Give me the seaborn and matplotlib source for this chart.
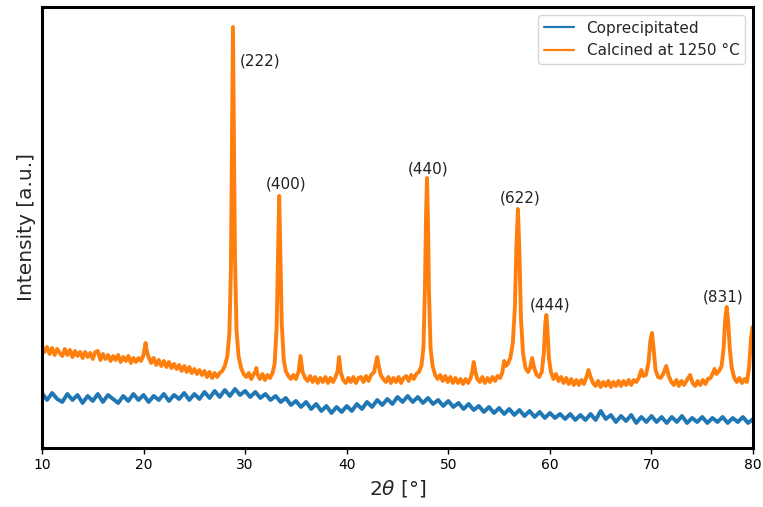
import numpy as np
import pandas as pd
import matplotlib
matplotlib.use("Agg")
import matplotlib.pyplot as plt
import seaborn as sns

series_names = ["Coprecipitated", "Calcined at 1250 °C"]

copre_x = [10.0, 10.5, 11.0, 11.5, 12.0, 12.5, 13.0, 13.5, 14.0, 14.5, 15.0, 15.5, 16.0, 16.5, 17.0, 17.5,
           18.0, 18.5, 19.0, 19.5, 20.0, 20.5, 21.0, 21.5, 22.0, 22.5, 23.0, 23.5, 24.0, 24.5, 25.0, 25.5,
           26.0, 26.5, 27.0, 27.5, 28.0, 28.5, 29.0, 29.5, 30.0, 30.5, 31.0, 31.5, 32.0, 32.5, 33.0, 33.5,
           34.0, 34.5, 35.0, 35.5, 36.0, 36.5, 37.0, 37.5, 38.0, 38.5, 39.0, 39.5, 40.0, 40.5, 41.0, 41.5,
           42.0, 42.5, 43.0, 43.5, 44.0, 44.5, 45.0, 45.5, 46.0, 46.5, 47.0, 47.5, 48.0, 48.5, 49.0, 49.5,
           50.0, 50.5, 51.0, 51.5, 52.0, 52.5, 53.0, 53.5, 54.0, 54.5, 55.0, 55.5, 56.0, 56.5, 57.0, 57.5,
           58.0, 58.5, 59.0, 59.5, 60.0, 60.5, 61.0, 61.5, 62.0, 62.5, 63.0, 63.5, 64.0, 64.5, 65.0, 65.5,
           66.0, 66.5, 67.0, 67.5, 68.0, 68.5, 69.0, 69.5, 70.0, 70.5, 71.0, 71.5, 72.0, 72.5, 73.0, 73.5,
           74.0, 74.5, 75.0, 75.5, 76.0, 76.5, 77.0, 77.5, 78.0, 78.5, 79.0, 79.5, 80.0]
copre_y = [55, 48, 55, 49, 46, 54, 48, 53, 45, 52, 47, 54, 46, 53, 49, 45,
           52, 47, 54, 48, 53, 46, 52, 48, 54, 47, 53, 49, 55, 48, 54, 49,
           56, 50, 57, 51, 58, 52, 59, 53, 57, 51, 56, 50, 54, 48, 52, 46,
           50, 43, 47, 41, 46, 39, 44, 37, 42, 35, 41, 36, 42, 37, 44, 39,
           46, 41, 48, 43, 49, 44, 51, 46, 52, 46, 51, 45, 50, 44, 48, 42,
           47, 41, 45, 39, 44, 38, 42, 36, 41, 35, 40, 34, 39, 33, 38, 32,
           37, 31, 36, 30, 35, 30, 34, 29, 34, 28, 33, 28, 34, 28, 37, 29,
           33, 26, 32, 27, 33, 25, 31, 26, 32, 26, 31, 25, 31, 26, 32, 25,
           30, 26, 31, 25, 30, 26, 31, 25, 30, 26, 31, 25, 29]

calc_x = [10.0, 10.25, 10.5, 10.75, 11.0, 11.25, 11.5, 11.75, 12.0, 12.25, 12.5, 12.75, 13.0, 13.25, 13.5, 13.75,
          14.0, 14.25, 14.5, 14.75, 15.0, 15.25, 15.5, 15.75, 16.0, 16.25, 16.5, 16.75, 17.0, 17.25, 17.5, 17.75,
          18.0, 18.25, 18.5, 18.75, 19.0, 19.25, 19.5, 19.75, 20.0, 20.1, 20.2, 20.3, 20.45, 20.75, 21.0, 21.25,
          21.5, 21.75, 22.0, 22.25, 22.5, 22.75, 23.0, 23.25, 23.5, 23.75, 24.0, 24.25, 24.5, 24.75, 25.0, 25.25,
          25.5, 25.75, 26.0, 26.25, 26.5, 26.75, 27.0, 27.25, 27.5, 27.75, 28.0, 28.25, 28.45, 28.6, 28.7, 28.8,
          28.9, 29.0, 29.15, 29.35, 29.6, 29.85, 30.1, 30.35, 30.6, 30.85, 31.0, 31.1, 31.2, 31.45, 31.7, 31.95,
          32.2, 32.45, 32.7, 32.9, 33.1, 33.25, 33.35, 33.45, 33.6, 33.8, 34.0, 34.25, 34.5, 34.75, 35.0, 35.25,
          35.45, 35.65, 35.9, 36.15, 36.4, 36.65, 36.9, 37.15, 37.4, 37.65, 37.9, 38.15, 38.4, 38.65, 38.9, 39.1,
          39.25, 39.4, 39.65, 39.9, 40.15, 40.4, 40.65, 40.9, 41.15, 41.4, 41.65, 41.9, 42.15, 42.4, 42.7, 42.85,
          43.0, 43.15, 43.35, 43.6, 43.85, 44.1, 44.35, 44.6, 44.85, 45.1, 45.35, 45.6, 45.85, 46.1, 46.35, 46.6,
          46.85, 47.1, 47.35, 47.55, 47.7, 47.8, 47.9, 48.0, 48.1, 48.25, 48.45, 48.7, 48.95, 49.2, 49.45, 49.7,
          49.95, 50.2, 50.45, 50.7, 50.95, 51.2, 51.45, 51.7, 51.95, 52.2, 52.35, 52.5, 52.65, 52.85, 53.1, 53.35,
          53.6, 53.85, 54.1, 54.35, 54.6, 54.85, 55.1, 55.3, 55.5, 55.65, 55.85, 56.1, 56.35, 56.55, 56.7, 56.85,
          57.0, 57.15, 57.35, 57.6, 57.85, 58.05, 58.25, 58.45, 58.7, 58.95, 59.2, 59.4, 59.55, 59.65, 59.75, 59.9,
          60.1, 60.35, 60.6, 60.85, 61.1, 61.35, 61.6, 61.85, 62.1, 62.35, 62.6, 62.85, 63.1, 63.35, 63.6, 63.8,
          64.0, 64.25, 64.5, 64.75, 65.0, 65.25, 65.5, 65.75, 66.0, 66.25, 66.5, 66.75, 67.0, 67.25, 67.5, 67.75,
          68.0, 68.25, 68.5, 68.75, 69.0, 69.2, 69.45, 69.7, 69.9, 70.05, 70.2, 70.4, 70.65, 70.9, 71.15, 71.45,
          71.7, 71.95, 72.2, 72.45, 72.7, 72.95, 73.2, 73.5, 73.8, 74.05, 74.3, 74.55, 74.8, 75.05, 75.3, 75.55,
          75.8, 76.05, 76.2, 76.4, 76.65, 76.9, 77.1, 77.25, 77.4, 77.55, 77.7, 77.9, 78.15, 78.4, 78.65, 78.9,
          79.15, 79.4, 79.6, 79.8, 79.95, 80.0]
calc_y = [102, 96, 101, 94, 100, 93, 99, 95, 92, 99, 93, 98, 91, 97, 92, 96,
          90, 96, 91, 95, 89, 96, 97, 88, 94, 89, 93, 87, 92, 88, 93, 86,
          91, 87, 92, 85, 90, 86, 90, 87, 93, 99, 105, 98, 92, 85, 90, 83,
          88, 82, 87, 81, 86, 80, 84, 79, 83, 77, 82, 76, 81, 75, 79, 74,
          78, 73, 77, 71, 76, 70, 75, 71, 75, 77, 82, 92, 115, 180, 300, 421,
          310, 190, 118, 92, 80, 74, 71, 75, 69, 74, 76, 80, 74, 69, 74, 68,
          73, 70, 75, 84, 120, 200, 252, 205, 125, 88, 77, 72, 69, 73, 69, 76,
          92, 76, 70, 67, 72, 66, 71, 65, 70, 66, 71, 65, 70, 66, 71, 77,
          91, 76, 68, 65, 70, 66, 71, 65, 70, 71, 66, 72, 67, 73, 76, 84,
          91, 82, 73, 69, 66, 71, 65, 70, 66, 71, 65, 70, 72, 67, 73, 69,
          74, 76, 82, 100, 160, 230, 270, 225, 155, 100, 82, 73, 69, 73, 67, 72,
          66, 71, 65, 70, 65, 69, 64, 69, 65, 70, 76, 86, 77, 69, 66, 71,
          65, 70, 66, 71, 67, 72, 70, 75, 87, 82, 84, 90, 105, 140, 200, 239,
          195, 130, 95, 80, 76, 80, 90, 80, 73, 71, 76, 95, 125, 133, 120, 90,
          76, 69, 74, 67, 71, 65, 70, 64, 69, 63, 68, 63, 68, 64, 71, 78,
          71, 65, 62, 67, 61, 66, 62, 67, 61, 66, 62, 67, 62, 67, 63, 68,
          63, 68, 66, 70, 78, 72, 73, 85, 108, 115, 100, 78, 71, 70, 74, 82,
          72, 66, 63, 68, 62, 67, 63, 68, 73, 65, 62, 67, 63, 68, 64, 69,
          70, 75, 79, 74, 77, 82, 100, 128, 141, 126, 100, 80, 70, 66, 70, 65,
          69, 66, 80, 110, 121, 118]

peak_labels = ["(222)", "(400)", "(440)", "(622)", "(444)", "(831)"]
label_x = [29.5, 34.0, 48.0, 57.05, 60.0, 77.05]
label_y = [387, 264, 279, 250, 143, 151]

df = pd.concat([
    pd.DataFrame({"two_theta": copre_x, "intensity": copre_y, "sample": series_names[0]}),
    pd.DataFrame({"two_theta": calc_x, "intensity": calc_y, "sample": series_names[1]}),
], ignore_index=True)

sns.set_style("white")
plt.rcParams["font.family"] = ["DejaVu Sans"]

fig = plt.figure(figsize=(7.63, 5.07), dpi=100)
ax = fig.add_axes([0.055, 0.1164, 0.932, 0.8698])

palette = {series_names[0]: "#1f77b4", series_names[1]: "#ff7f0e"}
sns.lineplot(data=df, x="two_theta", y="intensity", hue="sample", palette=palette,
             estimator=None, sort=True, linewidth=2.8, ax=ax)

for lab, lx, ly in zip(peak_labels, label_x, label_y):
    ha = "left" if lab == "(222)" else "center"
    ax.text(lx, ly, lab, fontsize=11, ha=ha, va="center", color="#222222")

ax.set_xlim(10, 80)
ax.set_ylim(0, 441)
ax.set_xticks([10, 20, 30, 40, 50, 60, 70, 80])
ax.set_yticks([])
ax.tick_params(axis="x", which="both", bottom=True, length=4, width=1, labelsize=10, colors="black")
ax.set_xlabel(r"2$\theta$ [°]", fontsize=14.5)
ax.set_ylabel("Intensity [a.u.]", fontsize=14.5)
for sp in ax.spines.values():
    sp.set_linewidth(2.2)
    sp.set_color("black")

leg = ax.legend(loc="upper right", fontsize=11, frameon=True, title=None)
for line in leg.get_lines():
    line.set_linewidth(1.6)

fig.savefig("out.png", dpi=100)
